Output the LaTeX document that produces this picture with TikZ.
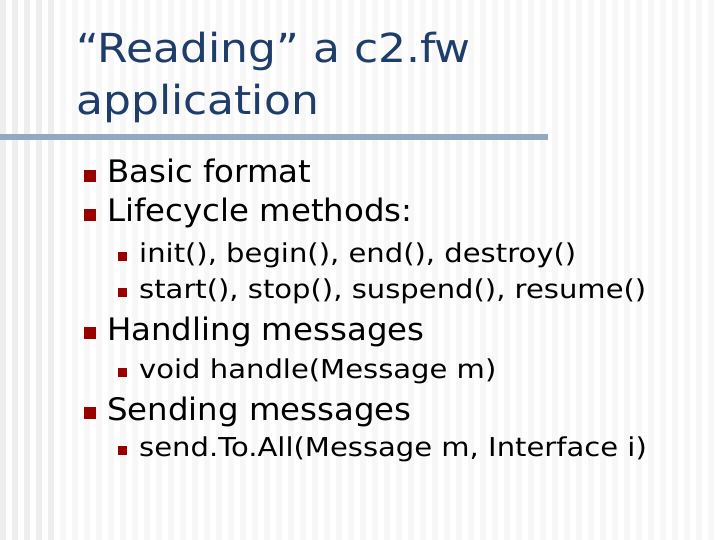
\documentclass[tikz,border=0pt]{standalone}
\usepackage{fontspec}
\setmainfont{DejaVu Sans}
\definecolor{ttl}{HTML}{1F3D6B}
\definecolor{bul}{HTML}{990000}
\definecolor{rule}{HTML}{93A9C2}
\newcommand{\hs}[2]{\scalebox{#1}[1]{#2}}
\begin{document}
\begin{tikzpicture}[x=1pt,y=-1pt,
  tl/.style={anchor=base west,inner sep=0,text=ttl,font=\fontsize{40}{40}\selectfont},
  l1/.style={anchor=base west,inner sep=0,font=\fontsize{31}{31}\selectfont},
  l2/.style={anchor=base west,inner sep=0,font=\fontsize{26}{26}\selectfont},
  b1/.style={fill=bul,minimum size=12pt,inner sep=0},
  b2/.style={fill=bul,minimum size=9pt,inner sep=0}]
\useasboundingbox (0,0) rectangle (720,540);
\fill[white] (0,0) rectangle (720,540);
\foreach \i in {0,...,59} {\fill[gray!6] (\i*12,0) rectangle (\i*12+6,540);}
\foreach \i in {0,...,4} {\fill[gray!13] (\i*12,0) rectangle (\i*12+6,540);}
\fill[rule] (0,134) rectangle (548,140);
\node[tl] (t1) at (76,63) {\hs{1.1}{“Reading” a c2.fw}};
\node[tl] (t2) at (76,115) {\hs{1.1}{application}};
\node[b1] (s1) at (90,176) {}; \node[l1] (a1) at (107,183) {\hs{1.045}{Basic format}};
\node[b1] (s2) at (90,215) {}; \node[l1] (a2) at (107,222) {\hs{1.045}{Lifecycle methods:}};
\node[b2] (s3) at (122,256) {}; \node[l2] (a3) at (139,262) {\hs{1.117}{init(), begin(), end(), destroy()}};
\node[b2] (s4) at (122,292) {}; \node[l2] (a4) at (139,298) {\hs{1.117}{start(), stop(), suspend(), resume()}};
\node[b1] (s5) at (90,333) {}; \node[l1] (a5) at (107,340) {\hs{1.045}{Handling messages}};
\node[b2] (s6) at (122,372) {}; \node[l2] (a6) at (139,378) {\hs{1.117}{void handle(Message m)}};
\node[b1] (s7) at (90,413) {}; \node[l1] (a7) at (107,420) {\hs{1.045}{Sending messages}};
\node[b2] (s8) at (122,450) {}; \node[l2] (a8) at (139,456) {\hs{1.117}{send.To.All(Message m, Interface i)}};
\end{tikzpicture}
\end{document}
